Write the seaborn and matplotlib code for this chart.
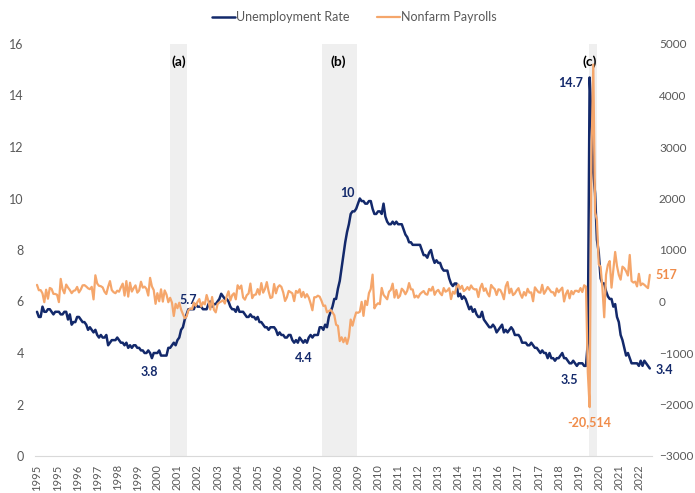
import numpy as np
import pandas as pd
import seaborn as sns
import matplotlib.pyplot as plt

# Monthly data, Jan 1995 - Jan 2023
unemployment_rate = [
    5.6, 5.4, 5.4, 5.8, 5.6, 5.6, 5.7, 5.7, 5.6, 5.5, 5.6, 5.6,   # 1995
    5.6, 5.5, 5.5, 5.6, 5.6, 5.3, 5.5, 5.1, 5.2, 5.2, 5.4, 5.4,   # 1996
    5.3, 5.2, 5.2, 5.1, 4.9, 5.0, 4.9, 4.8, 4.9, 4.7, 4.6, 4.7,   # 1997
    4.6, 4.6, 4.7, 4.3, 4.4, 4.5, 4.5, 4.5, 4.6, 4.5, 4.4, 4.4,   # 1998
    4.3, 4.4, 4.2, 4.3, 4.2, 4.3, 4.3, 4.2, 4.2, 4.1, 4.1, 4.0,   # 1999
    4.0, 4.1, 4.0, 3.8, 4.0, 4.0, 4.0, 4.1, 3.9, 3.9, 3.9, 3.9,   # 2000
    4.2, 4.2, 4.3, 4.4, 4.3, 4.5, 4.6, 4.9, 5.0, 5.3, 5.5, 5.7,   # 2001
    5.7, 5.7, 5.7, 5.9, 5.8, 5.8, 5.8, 5.7, 5.7, 5.7, 5.9, 6.0,   # 2002
    5.8, 5.9, 5.9, 6.0, 6.1, 6.3, 6.2, 6.1, 6.1, 6.0, 5.8, 5.7,   # 2003
    5.7, 5.6, 5.8, 5.6, 5.6, 5.6, 5.5, 5.4, 5.4, 5.5, 5.4, 5.4,   # 2004
    5.3, 5.4, 5.2, 5.2, 5.1, 5.0, 5.0, 4.9, 5.0, 5.0, 5.0, 4.9,   # 2005
    4.7, 4.8, 4.7, 4.7, 4.6, 4.6, 4.7, 4.7, 4.5, 4.4, 4.5, 4.4,   # 2006
    4.6, 4.5, 4.4, 4.5, 4.4, 4.6, 4.7, 4.6, 4.7, 4.7, 4.7, 5.0,   # 2007
    5.0, 4.9, 5.1, 5.0, 5.4, 5.6, 5.8, 6.1, 6.1, 6.5, 6.8, 7.3,   # 2008
    7.8, 8.3, 8.7, 9.0, 9.4, 9.5, 9.5, 9.6, 9.8, 10.0, 9.9, 9.9,  # 2009
    9.8, 9.8, 9.9, 9.9, 9.6, 9.4, 9.4, 9.5, 9.5, 9.4, 9.8, 9.3,   # 2010
    9.1, 9.0, 9.0, 9.1, 9.0, 9.1, 9.0, 9.0, 9.0, 8.8, 8.6, 8.5,   # 2011
    8.3, 8.3, 8.2, 8.2, 8.2, 8.2, 8.2, 8.0, 7.8, 7.8, 7.7, 7.9,   # 2012
    8.0, 7.7, 7.5, 7.6, 7.5, 7.5, 7.3, 7.2, 7.2, 7.2, 6.9, 6.7,   # 2013
    6.6, 6.7, 6.7, 6.2, 6.3, 6.1, 6.2, 6.1, 5.9, 5.7, 5.8, 5.6,   # 2014
    5.7, 5.5, 5.4, 5.4, 5.6, 5.3, 5.2, 5.1, 5.0, 5.0, 5.1, 5.0,   # 2015
    4.8, 4.9, 5.0, 5.1, 4.8, 4.9, 4.8, 4.9, 5.0, 4.9, 4.7, 4.7,   # 2016
    4.7, 4.6, 4.4, 4.4, 4.4, 4.3, 4.3, 4.4, 4.3, 4.2, 4.2, 4.1,   # 2017
    4.0, 4.1, 4.0, 4.0, 3.8, 4.0, 3.8, 3.8, 3.7, 3.8, 3.8, 3.9,   # 2018
    4.0, 3.8, 3.8, 3.7, 3.6, 3.6, 3.7, 3.6, 3.5, 3.6, 3.6, 3.6,   # 2019
    3.5, 3.5, 4.4, 14.7, 13.2, 11.0, 10.2, 8.4, 7.9, 6.9, 6.7, 6.7,  # 2020
    6.4, 6.2, 6.1, 6.1, 5.8, 5.9, 5.4, 5.2, 4.7, 4.5, 4.2, 3.9,   # 2021
    4.0, 3.8, 3.6, 3.6, 3.6, 3.6, 3.5, 3.7, 3.5, 3.7, 3.6, 3.5,   # 2022
    3.4,                                                          # 2023
]

# change in nonfarm payrolls, thousands (Apr 2020 drawn at one tenth)
nonfarm_payrolls = [
    323, 219, 221, 158, -14, 229, 54, 263, 244, 148, 146, 131,       # 1995
    -12, 439, 240, 159, 329, 271, 223, 162, 206, 218, 283, 176,      # 1996
    232, 313, 318, 291, 256, 239, 285, 41, 509, 349, 304, 297,       # 1997
    274, 190, 145, 286, 396, 222, 181, 161, 210, 190, 276, 347,      # 1998
    115, 396, 95, 365, 193, 260, 313, 172, 213, 384, 269, 288,       # 1999
    247, 116, 459, 293, 221, -45, 161, 5, 236, -2, 215, 136,         # 2000
    -14, 72, -22, -281, -45, -130, -24, -156, -245, -325, -292, -172,  # 2001
    -134, -148, -24, -85, -7, 47, -99, -14, -56, 126, 8, -156,       # 2002
    87, -160, -211, -50, -18, 0, 25, -40, 100, 198, 19, 122,         # 2003
    159, 42, 315, 249, 310, 78, 36, 122, 155, 348, 65, 128,          # 2004
    135, 241, 135, 357, 172, 245, 377, 196, 67, 84, 339, 159,        # 2005
    277, 315, 284, 177, 10, 80, 205, 183, 159, 8, 205, 170,          # 2006
    238, 88, 186, 77, 142, 76, -35, -170, 82, 84, 113, 93,           # 2007
    13, -86, -78, -210, -185, -165, -209, -266, -452, -473, -769, -695,  # 2008
    -791, -703, -823, -686, -351, -470, -329, -212, -219, -200, -7, -279,  # 2009
    14, -69, 163, 243, 522, -133, -70, -34, -52, 263, 130, 87,       # 2010
    43, 189, 225, 346, 77, 225, 69, 110, 248, 209, 141, 209,         # 2011
    358, 237, 233, 78, 115, 76, 143, 177, 203, 146, 132, 244,        # 2012
    211, 286, 130, 197, 226, 162, 122, 261, 190, 212, 258, 47,       # 2013
    190, 151, 272, 329, 246, 304, 202, 230, 280, 227, 312, 255,      # 2014
    234, 238, 86, 262, 344, 206, 254, 157, 100, 321, 272, 239,       # 2015
    126, 237, 225, 153, 44, 296, 379, 161, 249, 124, 155, 216,       # 2016
    259, 145, 72, 183, 116, 246, 172, 177, 5, 275, 224, 179,         # 2017
    171, 324, 149, 209, 281, 234, 182, 180, 111, 253, 180, 227,      # 2018
    269, 1, 146, 216, 61, 203, 141, 207, 208, 185, 261, 184,         # 2019
    315, 289, -1373, -2051, 2833, 4600, 1726, 1583, 716, 680, 263, -306,  # 2020
    520, 710, 785, 269, 614, 962, 689, 517, 424, 677, 647, 588,      # 2021
    504, 904, 398, 368, 386, 293, 537, 315, 350, 324, 290, 260,      # 2022
    517,                                                             # 2023
]

# x axis: a label every 11 months, as in the original
tick_months = list(range(0, 331, 11))
tick_labels = ['1995', '1995', '1996', '1997', '1998', '1999', '2000', '2001',
               '2002', '2003', '2004', '2005', '2006', '2006', '2007', '2008',
               '2009', '2010', '2011', '2012', '2013', '2014', '2015', '2016',
               '2017', '2017', '2018', '2019', '2020', '2021', '2022']

# recession shading (month index from Jan 1995) and labels
recessions = [(73, 82), (156.5, 175.2), (302.5, 307)]
recession_labels = ['(a)', '(b)', '(c)']
recession_label_x = [78, 165, 303]

df = pd.DataFrame({
    'month': np.arange(len(unemployment_rate)),
    'Unemployment Rate': unemployment_rate,
    'Nonfarm Payrolls': nonfarm_payrolls,
})

navy = '#13296b'
orange = '#f5a66b'
orange_text = '#f08c4a'
grey = '#595959'

sns.set_style('white')
plt.rcParams['font.family'] = ['Lato', 'DejaVu Sans']

fig = plt.figure(figsize=(6.95, 4.93), dpi=100)
ax = fig.add_axes([35 / 695, 37 / 493, 617 / 695, 412 / 493])

for (x0, x1), lab, lx in zip(recessions, recession_labels, recession_label_x):
    ax.axvspan(x0, x1, color='#efefef', lw=0, zorder=0)
    ax.text(lx, 15.3, lab, ha='center', va='center', fontsize=10,
            fontweight='bold', color='black')

sns.lineplot(data=df, x='month', y='Unemployment Rate', ax=ax, color=navy,
             lw=1.8, label='Unemployment Rate', legend=False)

ax2 = ax.twinx()
sns.lineplot(data=df, x='month', y='Nonfarm Payrolls', ax=ax2, color=orange,
             lw=1.6, label='Nonfarm Payrolls', legend=False)

ax.set_xlim(-1.1, 337.2)
ax.set_ylim(0, 16)
ax2.set_ylim(-3000, 5000)
ax.set_yticks(range(0, 17, 2))
ax2.set_yticks(range(-3000, 5001, 1000))
ax.set_xticks(tick_months)
ax.set_xticklabels(tick_labels, rotation=90)
ax.set_xlabel('')
ax.set_ylabel('')
ax2.set_ylabel('')

for a in (ax, ax2):
    for s in a.spines.values():
        s.set_visible(False)
ax.spines['bottom'].set_visible(True)
ax.spines['bottom'].set_color('#d9d9d9')

ax.tick_params(axis='x', length=4, width=0.8, color='#d9d9d9', pad=2,
               labelsize=8, labelcolor=grey)
ax.tick_params(axis='y', length=0, pad=8, labelsize=9, labelcolor=grey)
ax2.tick_params(axis='y', length=0, pad=5, labelsize=8.5, labelcolor=grey)

# data labels
def mark(axis, month, value, text, dx, dy, color, ha='center'):
    axis.annotate(text, (month, value), xytext=(dx, dy), textcoords='offset points',
                  ha=ha, va='center', fontsize=9, fontweight='bold', color=color)

mark(ax, 63, 3.8, '3.8', -2, -10, navy)
mark(ax, 83, 5.7, '5.7', 0, 7, navy)
mark(ax, 146, 4.4, '4.4', 0, -11, navy)
mark(ax, 177, 10.0, '10', -9, 4, navy)
mark(ax, 303, 14.7, '14.7', -14, -4, navy)
mark(ax, 301, 3.5, '3.5', -12, -10, navy)
mark(ax, 336, 3.4, '3.4', 4, -1, navy, ha='left')
mark(ax2, 303, -2051, '-20,514', 0, -11, orange_text)
mark(ax2, 336, 517, '517', 4, 0, orange_text, ha='left')

h1, l1 = ax.get_legend_handles_labels()
h2, l2 = ax2.get_legend_handles_labels()
leg = fig.legend(h1 + h2, l1 + l2, loc='upper center', bbox_to_anchor=(0.51, 1.0),
                 ncol=2, frameon=False, fontsize=9, handlelength=1.8,
                 handletextpad=0.1, columnspacing=2.2)
for t in leg.get_texts():
    t.set_color(grey)

fig.savefig('out.png', dpi=100)
